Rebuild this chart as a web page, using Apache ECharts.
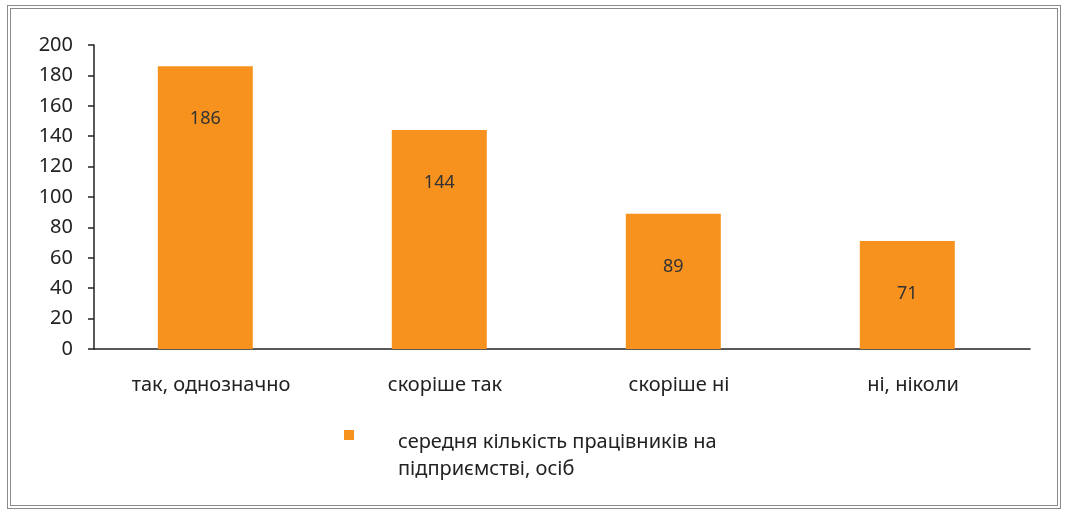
<!DOCTYPE html>
<html lang="uk">
<head>
  <meta charset="UTF-8">
  <title>Chart</title>
  <script src="https://cdn.jsdelivr.net/npm/echarts@6/dist/echarts.min.js"></script>
  <style>
    html, body { margin: 0; padding: 0; background: #fff; }
    #c1 { position: absolute; left: 0; top: 0; width: 1066px; height: 513px; }
    .frame {
      position: absolute; left: 7px; top: 5px; width: 1046px; height: 496px;
      border: 4px double #8a8a8a; pointer-events: none;
    }
  </style>
</head>
<body>
<div id="c1"></div>
<div class="frame"></div>

<script>
  // дані з рисунка
  var categories = ['так, однозначно', 'скоріше так', 'скоріше ні', 'ні, ніколи'];
  var values = [186, 144, 89, 71];
  var seriesName = 'середня кількість працівників на\nпідприємстві, осіб';
  var yTicks = { min: 0, max: 200, interval: 20 };

  var chartDom = document.getElementById('c1');
  var myChart = echarts.init(chartDom);
  var font = 'Noto Sans';
  var option;

  option = {
    animation: false,
    grid: {
      left: 94,
      right: 36,
      top: 45,
      bottom: 164
    },
    legend: {
      data: [seriesName],
      left: 344,
      top: 403,
      padding: 0,
      itemWidth: 10,
      itemHeight: 10,
      icon: 'rect',
      // порожній верхній рядок, щоб квадратик стояв вище першого рядка тексту
      formatter: function (name) {
        return '{s| }\n{t|' + name.split('\n').join('}\n{t|') + '}';
      },
      textStyle: {
        fontFamily: font,
        color: '#222',
        padding: [0, 0, 0, 39],
        rich: {
          s: { fontSize: 10, lineHeight: 41 },
          t: { fontFamily: font, fontSize: 20, lineHeight: 27, color: '#222' }
        }
      }
    },
    xAxis: {
      type: 'category',
      data: categories,
      axisLine: { lineStyle: { color: '#222', width: 1.5 } },
      axisTick: { length: 6, lineStyle: { color: '#222', width: 1.5 } },
      axisLabel: { margin: 26, fontFamily: font, fontSize: 20, color: '#222' }
    },
    yAxis: {
      type: 'value',
      min: yTicks.min,
      max: yTicks.max,
      interval: yTicks.interval,
      splitLine: { show: false },
      axisLine: { show: true, lineStyle: { color: '#222', width: 1.5 } },
      axisTick: { show: true, length: 6, lineStyle: { color: '#222', width: 1.5 } },
      axisLabel: { margin: 21, fontFamily: font, fontSize: 20, color: '#222' }
    },
    series: [
      {
        name: seriesName,
        type: 'bar',
        data: values,
        barWidth: 95,
        barGap: '-88%',
        itemStyle: { color: '#F7921E' },
        label: {
          show: true,
          position: 'insideTop',
          distance: 44,
          fontFamily: font,
          fontSize: 18,
          color: '#333'
        }
      },
      {
        // порожня серія, лише щоб трохи зсунути стовпці вліво, як на оригіналі
        name: '',
        type: 'bar',
        data: [],
        barWidth: 95,
        silent: true
      }
    ]
  };

  option && myChart.setOption(option);
</script>
</body>
</html>
